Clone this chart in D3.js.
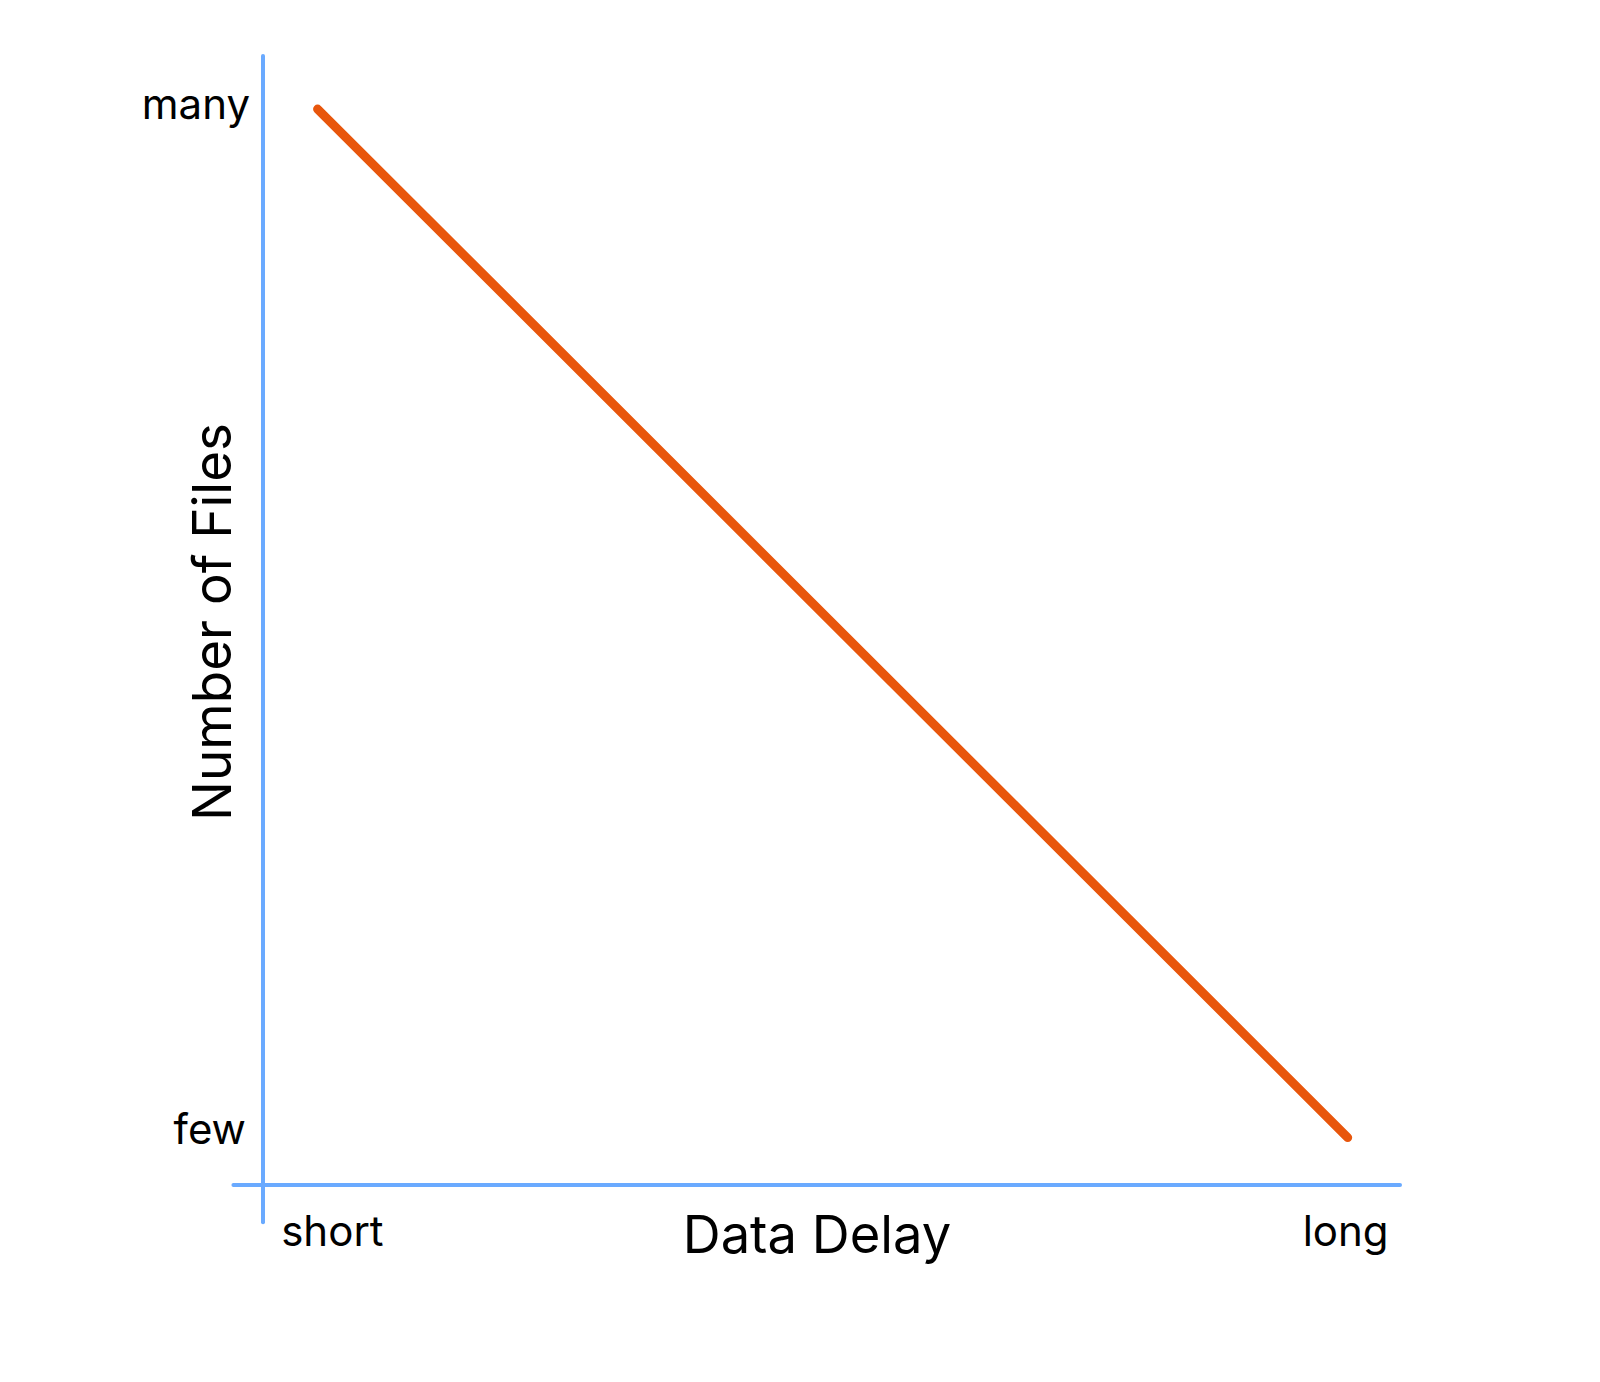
<!DOCTYPE html>
<html>
<head>
<meta charset="utf-8">
<script src="https://cdn.jsdelivr.net/npm/d3@7"></script>
<style>
  html, body { margin: 0; padding: 0; background: #fff; }
  svg { display: block; font-family: Inter, "Noto Sans", sans-serif; }
</style>
</head>
<body>
<svg width="1600" height="1382"></svg>
<script>
// data
var delayLabels = ["short", "long"];
var fileLabels = ["few", "many"];
var delayValues = [0.048, 0.954];   // relative data delay
var fileValues = [0.953, 0.042];    // relative number of files

var svg = d3.select("svg");

var x = d3.scaleLinear().domain([0, 1]).range([263, 1400]);
var y = d3.scaleLinear().domain([0, 1]).range([1185, 56]);

var axisColor = "#6aaaff",
    lineColor = "#e8560c";

// axes lines
svg.append("line")
    .attr("x1", x(-0.026)).attr("x2", x(1))
    .attr("y1", y(0)).attr("y2", y(0))
    .attr("stroke", axisColor).attr("stroke-width", 4)
    .attr("stroke-linecap", "round");

svg.append("line")
    .attr("x1", x(0)).attr("x2", x(0))
    .attr("y1", y(-0.033)).attr("y2", y(1))
    .attr("stroke", axisColor).attr("stroke-width", 4)
    .attr("stroke-linecap", "round");

// the trend line
var points = delayValues.map(function (d, i) { return [d, fileValues[i]]; });
svg.append("path")
    .datum(points)
    .attr("fill", "none")
    .attr("stroke", lineColor)
    .attr("stroke-width", 9)
    .attr("stroke-linecap", "round")
    .attr("d", d3.line()
        .x(function (d) { return x(d[0]); })
        .y(function (d) { return y(d[1]); }));

// tick labels
svg.append("text").text(delayLabels[0])
    .attr("x", x(0.016)).attr("y", 1246)
    .attr("font-size", 42).attr("text-anchor", "start");
svg.append("text").text(delayLabels[1])
    .attr("x", x(0.99)).attr("y", 1246)
    .attr("font-size", 42).attr("text-anchor", "end");

svg.append("text").text(fileLabels[1])
    .attr("x", 250).attr("y", y(0.944))
    .attr("font-size", 42).attr("text-anchor", "end");
svg.append("text").text(fileLabels[0])
    .attr("x", 246).attr("y", y(0.036))
    .attr("font-size", 42).attr("text-anchor", "end");

// axis titles
svg.append("text").text("Data Delay")
    .attr("x", 817).attr("y", 1253)
    .attr("font-size", 52.5).attr("text-anchor", "middle");

svg.append("text").text("Number of Files")
    .attr("transform", "translate(231,622) rotate(-90)")
    .attr("font-size", 53).attr("text-anchor", "middle");
</script>
</body>
</html>
